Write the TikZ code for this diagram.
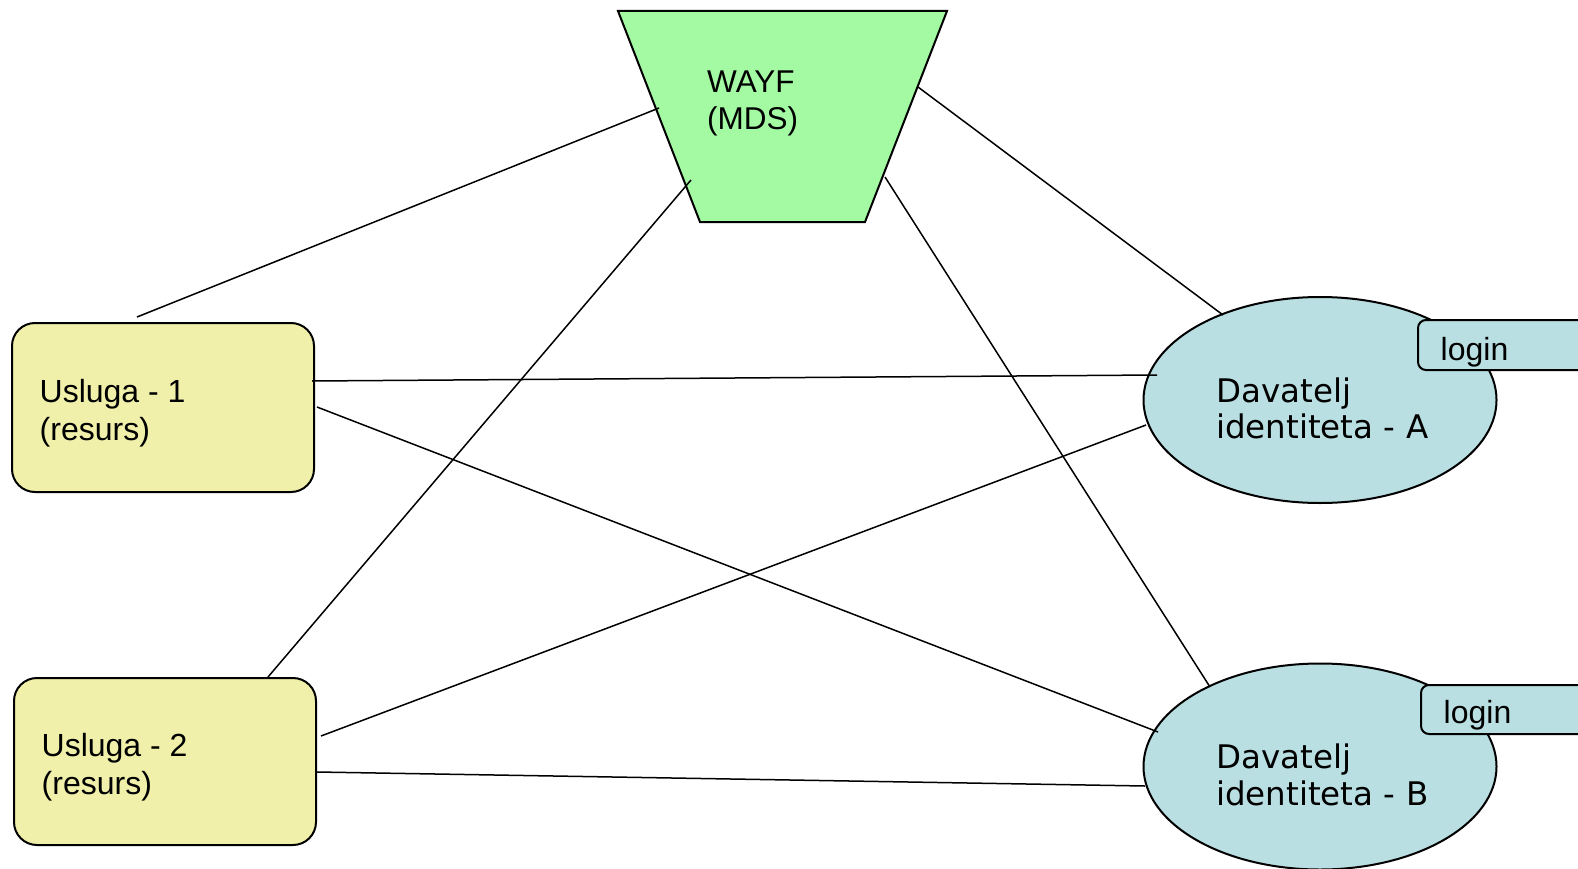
\documentclass[tikz,border=0pt]{standalone}
\usepackage{fontspec}
\setmainfont{Liberation Sans}
\newfontfamily\dvfont{DejaVu Sans}
\usetikzlibrary{shapes.geometric}
\definecolor{wayfgreen}{RGB}{163,250,163}
\definecolor{svcyellow}{RGB}{240,240,170}
\definecolor{idpblue}{RGB}{185,223,226}
\begin{document}
\begin{tikzpicture}[x=1pt,y=-1pt,
  svc/.style={draw=black, line width=2pt, fill=svcyellow, rounded corners=23pt,
    minimum width=302pt, inner sep=0pt},
  idp/.style={draw=black, line width=2pt, fill=idpblue, ellipse,
    minimum width=353pt, minimum height=206pt, inner sep=0pt},
  loginbox/.style={draw=black, line width=2pt, fill=idpblue, rounded corners=8pt},
  lbl/.style={anchor=base west, inner sep=0pt, align=left,
    font=\fontsize{32}{38}\selectfont},
  idlbl/.style={anchor=base west, inner sep=0pt, align=left,
    font=\dvfont\fontsize{32.5}{36.5}\selectfont},
  conn/.style={draw=black, line width=1.5pt}
]
\useasboundingbox (0,0) rectangle (1578,869);
\clip (0,0) rectangle (1578,869);

% WAYF trapezoid
\path[draw=black, line width=2pt, fill=wayfgreen]
  (618,11) -- (947,11) -- (865,222) -- (700,222) -- cycle;
\node[lbl, font=\fontsize{31.5}{37}\selectfont] (wayf) at (707,130) {WAYF\\(MDS)};

% services
\node[svc, minimum height=169pt] (u1) at (163,407.5) {};
\node[svc, minimum height=167pt] (u2) at (165,761.5) {};
\node[lbl] (u1t) at (39.5,440) {Usluga - 1\\(resurs)};
\node[lbl] (u2t) at (41.5,794.5) {Usluga - 2\\(resurs)};

% identity providers
\node[idp] (ida) at (1320,400) {};
\node[idp] (idb) at (1320,766.5) {};
\path[loginbox] (1418,320) rectangle (1610,370);
\path[loginbox] (1421,685) rectangle (1610,734);
\node[lbl] (la) at (1440.5,360) {login};
\node[lbl] (lb) at (1443.5,723) {login};
\node[idlbl] (idat) at (1216,438.5) {Davatelj\\identiteta - A};
\node[idlbl] (idbt) at (1216,805) {Davatelj\\identiteta - B};

% connector end points
\coordinate (c1a) at (137,317);  \coordinate (c1b) at (659,108);
\coordinate (c2a) at (312,381);  \coordinate (c2b) at (1157,375);
\coordinate (c3a) at (317,407);  \coordinate (c3b) at (1158,732);
\coordinate (c4a) at (268,677);  \coordinate (c4b) at (691,180);
\coordinate (c5a) at (321,736);  \coordinate (c5b) at (1146,425);
\coordinate (c6a) at (317,772);  \coordinate (c6b) at (1145,786);
\coordinate (c7a) at (918,87);   \coordinate (c7b) at (1223,315);
\coordinate (c8a) at (885,177);  \coordinate (c8b) at (1210,687);

\draw[conn] (c1a) -- (c1b);
\draw[conn] (c2a) -- (c2b);
\draw[conn] (c3a) -- (c3b);
\draw[conn] (c4a) -- (c4b);
\draw[conn] (c5a) -- (c5b);
\draw[conn] (c6a) -- (c6b);
\draw[conn] (c7a) -- (c7b);
\draw[conn] (c8a) -- (c8b);
\end{tikzpicture}
\end{document}
